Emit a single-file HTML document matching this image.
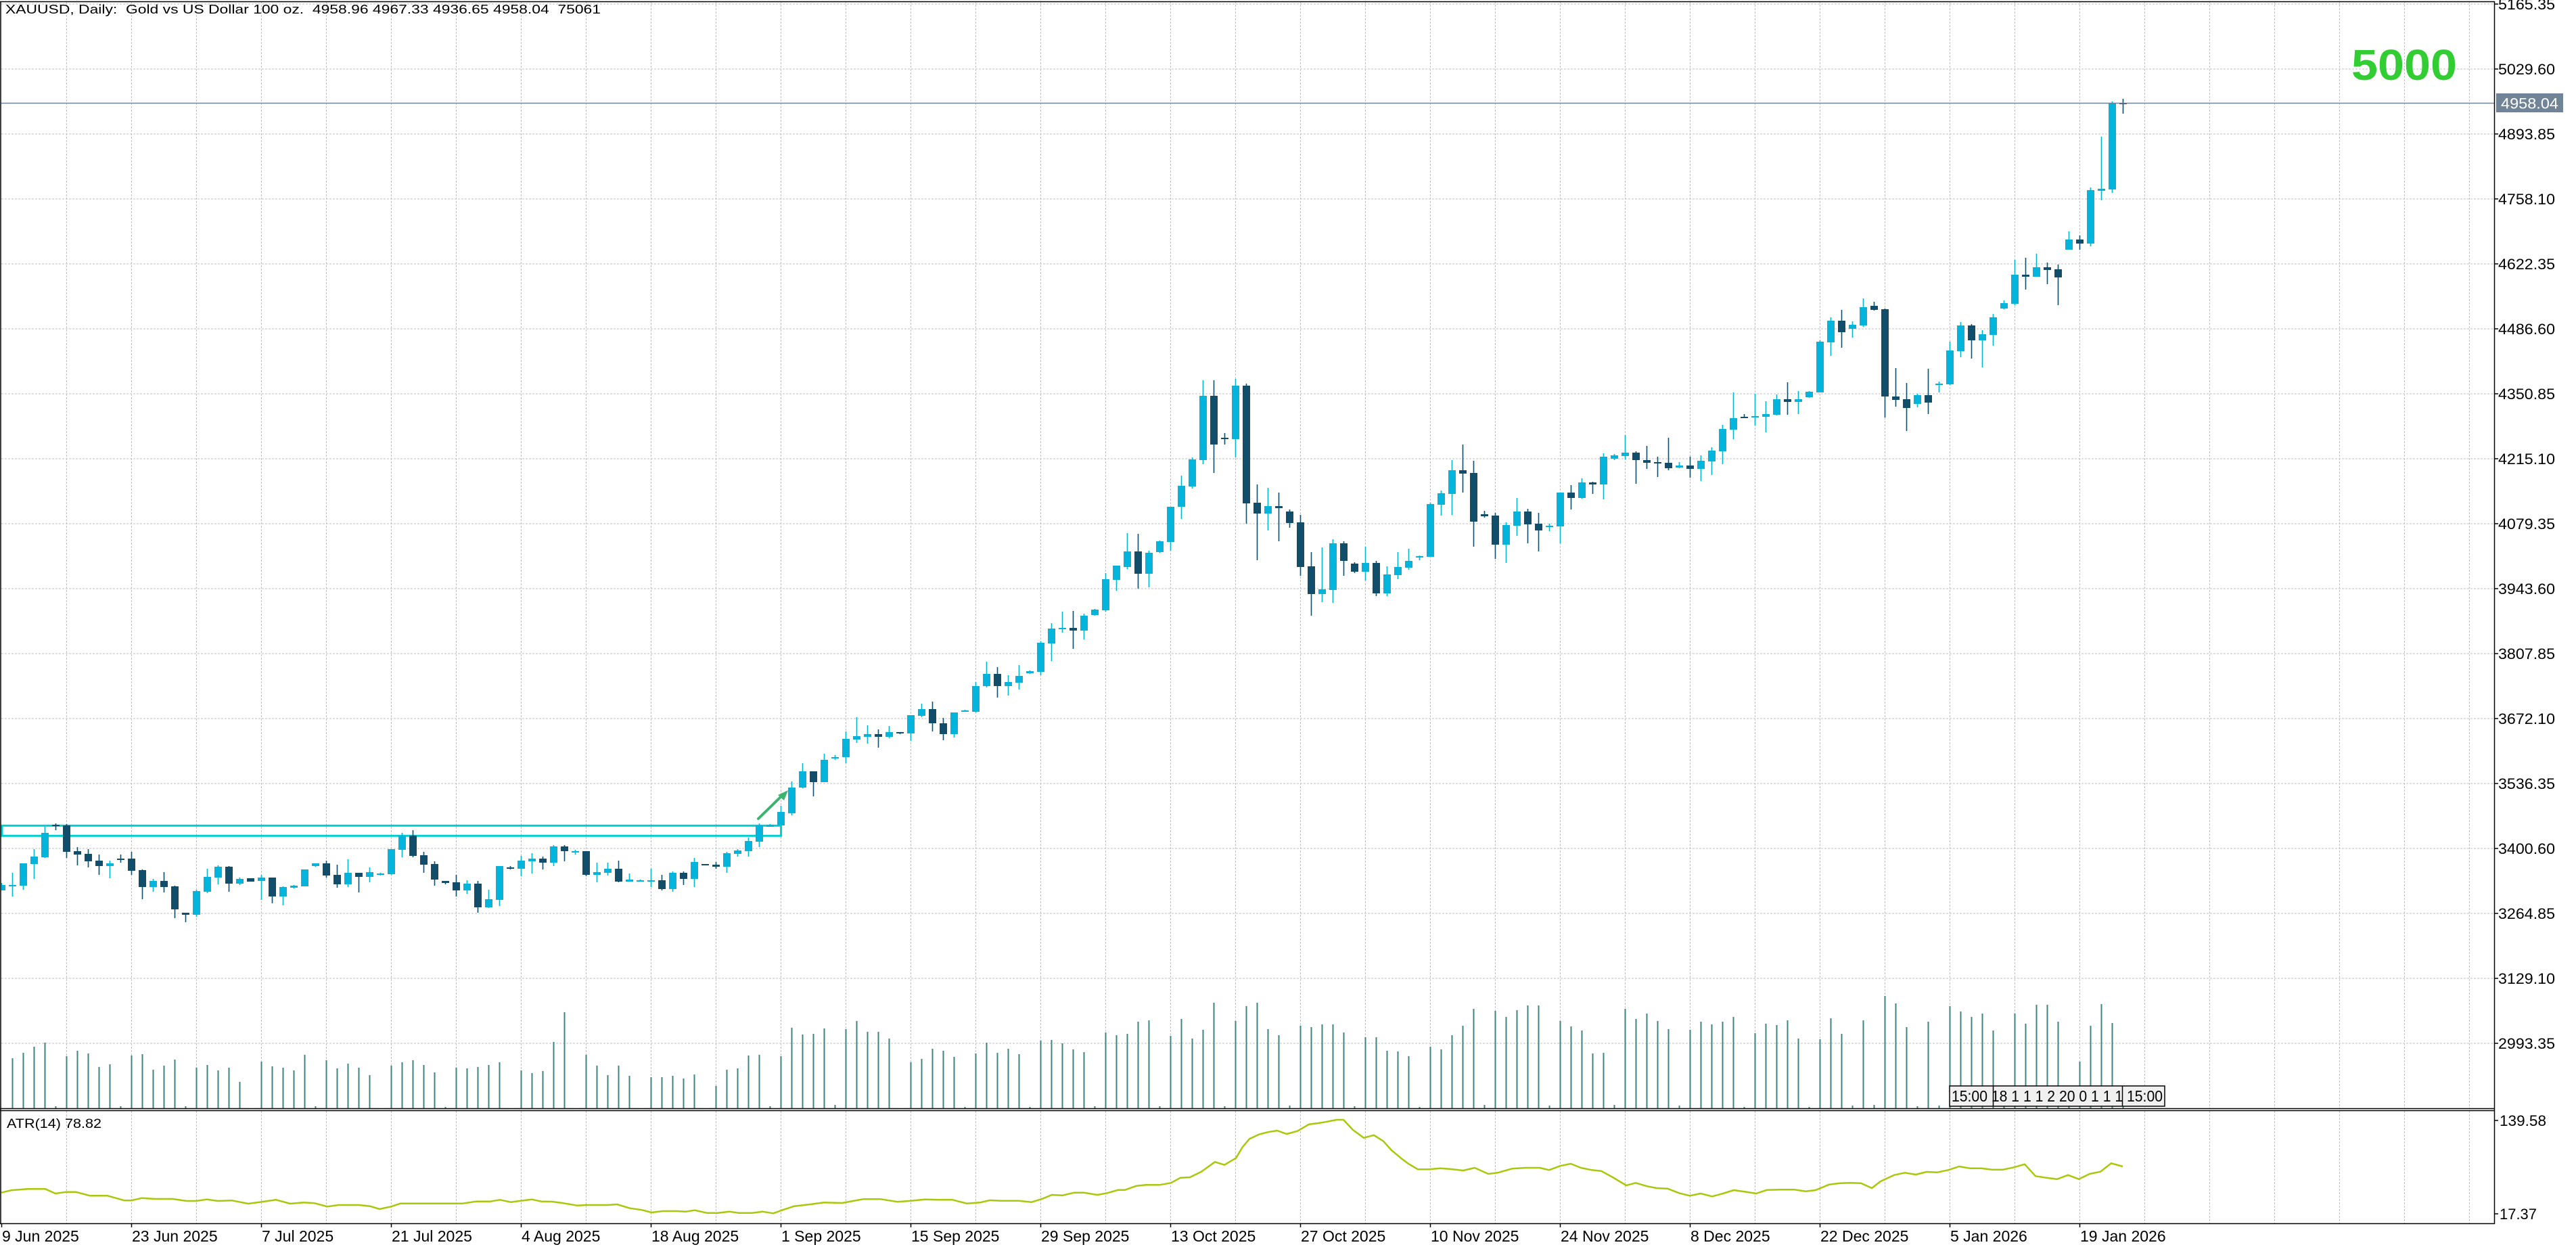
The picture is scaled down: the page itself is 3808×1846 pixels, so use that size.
<!DOCTYPE html>
<html><head><meta charset="utf-8"><style>
html,body{margin:0;padding:0;background:#fff;}
svg{display:block;}
text{font-family:"Liberation Sans",Arial,sans-serif;fill:#000;}
</style></head><body>
<svg width="3808" height="1846" viewBox="0 0 3808 1846" xmlns="http://www.w3.org/2000/svg">
<rect width="3808" height="1846" fill="#fff"/>
<!-- grid -->
<g stroke="#c0c0c0" stroke-width="1" stroke-dasharray="3 2" fill="none">
<path d="M2 6H3687M2 102H3687M2 198H3687M2 294H3687M2 390H3687M2 486H3687M2 582H3687M2 678H3687M2 774H3687M2 870H3687M2 966H3687M2 1062H3687M2 1158H3687M2 1254H3687M2 1350H3687M2 1446H3687M2 1542H3687"/>
<path d="M98.5 2V1638M194.5 2V1638M290.5 2V1638M386.5 2V1638M482.5 2V1638M578.5 2V1638M674.5 2V1638M770.5 2V1638M866.5 2V1638M962.5 2V1638M1058.5 2V1638M1154.5 2V1638M1250.5 2V1638M1346.5 2V1638M1442.5 2V1638M1538.5 2V1638M1634.5 2V1638M1730.5 2V1638M1826.5 2V1638M1922.5 2V1638M2018.5 2V1638M2114.5 2V1638M2210.5 2V1638M2306.5 2V1638M2402.5 2V1638M2498.5 2V1638M2594.5 2V1638M2690.5 2V1638M2786.5 2V1638M2882.5 2V1638M2978.5 2V1638M3074.5 2V1638M3170.5 2V1638M3266.5 2V1638M3362.5 2V1638M3458.5 2V1638M3554.5 2V1638M3650.5 2V1638"/>
<path d="M98.5 1642V1808M194.5 1642V1808M290.5 1642V1808M386.5 1642V1808M482.5 1642V1808M578.5 1642V1808M674.5 1642V1808M770.5 1642V1808M866.5 1642V1808M962.5 1642V1808M1058.5 1642V1808M1154.5 1642V1808M1250.5 1642V1808M1346.5 1642V1808M1442.5 1642V1808M1538.5 1642V1808M1634.5 1642V1808M1730.5 1642V1808M1826.5 1642V1808M1922.5 1642V1808M2018.5 1642V1808M2114.5 1642V1808M2210.5 1642V1808M2306.5 1642V1808M2402.5 1642V1808M2498.5 1642V1808M2594.5 1642V1808M2690.5 1642V1808M2786.5 1642V1808M2882.5 1642V1808M2978.5 1642V1808M3074.5 1642V1808M3170.5 1642V1808M3266.5 1642V1808M3362.5 1642V1808M3458.5 1642V1808M3554.5 1642V1808M3650.5 1642V1808"/>
</g>
<!-- volumes -->
<path stroke="#3e8583" stroke-width="2" fill="none" d="M18.5 1638V1564M34.5 1638V1556M50.5 1638V1547M66.5 1638V1541M82.5 1638V1635M98.5 1638V1561M114.5 1638V1553M130.5 1638V1557M146.5 1638V1577M162.5 1638V1573M178.5 1638V1635M194.5 1638V1560M210.5 1638V1558M226.5 1638V1581M242.5 1638V1575M258.5 1638V1566M274.5 1638V1635M290.5 1638V1578M306.5 1638V1574M322.5 1638V1582M338.5 1638V1578M354.5 1638V1599M386.5 1638V1569M402.5 1638V1576M418.5 1638V1578M434.5 1638V1582M450.5 1638V1559M466.5 1638V1635M482.5 1638V1567M498.5 1638V1579M514.5 1638V1572M530.5 1638V1578M546.5 1638V1589M578.5 1638V1575M594.5 1638V1570M610.5 1638V1567M626.5 1638V1574M642.5 1638V1585M658.5 1638V1636M674.5 1638V1578M690.5 1638V1579M706.5 1638V1577M722.5 1638V1574M738.5 1638V1570M770.5 1638V1582M786.5 1638V1586M802.5 1638V1583M818.5 1638V1540M834.5 1638V1496M866.5 1638V1559M882.5 1638V1575M898.5 1638V1589M914.5 1638V1575M930.5 1638V1590M962.5 1638V1592M978.5 1638V1592M994.5 1638V1590M1010.5 1638V1594M1026.5 1638V1588M1058.5 1638V1605M1074.5 1638V1581M1090.5 1638V1579M1106.5 1638V1560M1122.5 1638V1559M1138.5 1638V1635M1154.5 1638V1561M1170.5 1638V1519M1186.5 1638V1529M1202.5 1638V1528M1218.5 1638V1520M1234.5 1638V1633M1250.5 1638V1521M1266.5 1638V1509M1282.5 1638V1525M1298.5 1638V1525M1314.5 1638V1535M1346.5 1638V1570M1362.5 1638V1565M1378.5 1638V1550M1394.5 1638V1553M1410.5 1638V1562M1426.5 1638V1636M1442.5 1638V1557M1458.5 1638V1541M1474.5 1638V1556M1490.5 1638V1550M1506.5 1638V1558M1522.5 1638V1636M1538.5 1638V1538M1554.5 1638V1537M1570.5 1638V1542M1586.5 1638V1551M1602.5 1638V1555M1618.5 1638V1635M1634.5 1638V1526M1650.5 1638V1530M1666.5 1638V1528M1682.5 1638V1510M1698.5 1638V1508M1714.5 1638V1635M1730.5 1638V1531M1746.5 1638V1506M1762.5 1638V1535M1778.5 1638V1522M1794.5 1638V1482M1810.5 1638V1635M1826.5 1638V1509M1842.5 1638V1487M1858.5 1638V1482M1874.5 1638V1521M1890.5 1638V1530M1906.5 1638V1634M1922.5 1638V1516M1938.5 1638V1518M1954.5 1638V1514M1970.5 1638V1514M1986.5 1638V1526M2002.5 1638V1635M2018.5 1638V1533M2034.5 1638V1533M2050.5 1638V1553M2066.5 1638V1554M2082.5 1638V1561M2098.5 1638V1636M2114.5 1638V1547M2130.5 1638V1551M2146.5 1638V1530M2162.5 1638V1516M2178.5 1638V1491M2194.5 1638V1633M2210.5 1638V1494M2226.5 1638V1503M2242.5 1638V1493M2258.5 1638V1486M2274.5 1638V1486M2290.5 1638V1634M2306.5 1638V1509M2322.5 1638V1517M2338.5 1638V1523M2354.5 1638V1557M2370.5 1638V1556M2386.5 1638V1633M2402.5 1638V1491M2418.5 1638V1506M2434.5 1638V1498M2450.5 1638V1509M2466.5 1638V1521M2482.5 1638V1634M2498.5 1638V1522M2514.5 1638V1510M2530.5 1638V1514M2546.5 1638V1510M2562.5 1638V1503M2578.5 1638V1636M2594.5 1638V1527M2610.5 1638V1513M2626.5 1638V1515M2642.5 1638V1508M2658.5 1638V1535M2674.5 1638V1636M2690.5 1638V1536M2706.5 1638V1505M2722.5 1638V1528M2738.5 1638V1634M2754.5 1638V1508M2770.5 1638V1633M2786.5 1638V1472M2802.5 1638V1483M2818.5 1638V1518M2834.5 1638V1635M2850.5 1638V1510M2866.5 1638V1634M2882.5 1638V1487M2898.5 1638V1495M2914.5 1638V1503M2930.5 1638V1498M2946.5 1638V1523M2962.5 1638V1634M2978.5 1638V1498M2994.5 1638V1513M3010.5 1638V1485M3026.5 1638V1485M3042.5 1638V1510M3058.5 1638V1632M3074.5 1638V1569M3090.5 1638V1516M3106.5 1638V1484M3122.5 1638V1512M3138.5 1638V1605"/>
<!-- time label box -->
<rect x="2882" y="1605" width="318" height="30" fill="#f0f0f0" stroke="#000" stroke-width="1.5"/>
<path d="M2946.5 1605V1635M3137.5 1605V1635" stroke="#000" stroke-width="1.5"/>
<text x="2885" y="1628" font-size="23" textLength="312" lengthAdjust="spacingAndGlyphs">15:00 18 1 1 1 2 20 0 1 1 1 15:00</text>
<!-- cyan rectangle -->
<rect x="3" y="1220.3" width="1151.5" height="15" fill="none" stroke="#00ced1" stroke-width="3"/>
<!-- green arrow -->
<line x1="1121" y1="1210" x2="1158" y2="1174" stroke="#3cb371" stroke-width="4" stroke-linecap="round"/>
<polygon points="1165,1168 1150,1175 1159,1183" fill="#3cb371"/>
<!-- candles bull -->
<g clip-path="url(#cl)">
<clipPath id="cl"><rect x="2" y="2" width="3685" height="1636"/></clipPath>
<path stroke="#00b4dc" stroke-width="1.6" fill="none" d="M2.5 1305V1316M18.5 1290V1325M34.5 1276V1315M50.5 1255V1299M66.5 1222V1268M162.5 1272V1298M226.5 1299V1318M290.5 1315V1355M306.5 1284V1320M322.5 1279V1307M354.5 1297V1308M386.5 1293V1330M418.5 1310V1338M434.5 1308V1313M450.5 1285V1310M466.5 1276V1281M514.5 1270V1311M546.5 1282V1304M562.5 1290V1294M578.5 1255V1293M594.5 1231V1267M690.5 1301V1321M722.5 1315V1342M738.5 1280V1339M770.5 1265V1295M786.5 1261V1291M818.5 1249V1280M850.5 1256V1263M882.5 1275V1304M898.5 1275V1294M930.5 1291V1303M946.5 1300V1303M962.5 1284V1311M994.5 1288V1318M1026.5 1268V1311M1074.5 1259V1290M1090.5 1255V1266M1106.5 1238V1266M1122.5 1217V1252M1138.5 1218V1222M1154.5 1191V1220M1170.5 1155V1205M1186.5 1128V1165M1218.5 1114V1156M1234.5 1116V1123M1250.5 1081V1128M1266.5 1060V1098M1282.5 1072V1099M1314.5 1073V1091M1346.5 1057V1095M1362.5 1040V1060M1410.5 1053V1090M1426.5 1049V1052M1442.5 1008V1053M1458.5 978V1016M1490.5 998V1028M1506.5 983V1019M1522.5 991V996M1538.5 948V998M1554.5 921V977M1570.5 904V935M1602.5 907V945M1618.5 900V910M1634.5 847V904M1650.5 836V873M1666.5 788V841M1698.5 814V868M1714.5 799V817M1730.5 749V814M1746.5 703V767M1762.5 676V722M1778.5 562V686M1826.5 560V676M1874.5 721V784M1954.5 809V890M1970.5 797V891M2018.5 808V858M2050.5 837V881M2066.5 816V856M2082.5 811V842M2098.5 821V828M2114.5 743V823M2130.5 725V762M2146.5 680V761M2226.5 772V832M2242.5 736V792M2290.5 774V785M2306.5 728V803M2338.5 707V737M2370.5 670V738M2386.5 671V680M2402.5 643V679M2482.5 683V692M2514.5 673V711M2530.5 661V702M2546.5 628V686M2562.5 580V649M2594.5 582V629M2610.5 593V639M2626.5 583V614M2658.5 578V612M2674.5 578V588M2690.5 503V580M2706.5 469V526M2738.5 475V499M2754.5 441V483M2834.5 582V602M2866.5 564V580M2882.5 505V569M2898.5 476V528M2930.5 488V543M2946.5 464V511M2962.5 444V457M2978.5 384V451M3010.5 375V409M3058.5 342V369M3090.5 277V364M3106.5 202V296M3122.5 150V285"/>
<path fill="#00b4dc" d="M-3 1308h11v8h-11zM13 1308h11v2h-11zM29 1276h11v33h-11zM45 1266h11v11h-11zM61 1231h11v36h-11zM157 1276h11v4h-11zM221 1302h11v9h-11zM285 1317h11v35h-11zM301 1296h11v22h-11zM317 1281h11v16h-11zM349 1299h11v7h-11zM381 1297h11v5h-11zM413 1311h11v14h-11zM429 1309h11v3h-11zM445 1285h11v25h-11zM461 1276h11v4h-11zM509 1290h11v17h-11zM541 1289h11v7h-11zM557 1291h11v2h-11zM573 1255h11v37h-11zM589 1235h11v21h-11zM685 1306h11v10h-11zM717 1329h11v12h-11zM733 1280h11v50h-11zM765 1272h11v12h-11zM781 1269h11v4h-11zM813 1251h11v24h-11zM845 1258h11v2h-11zM877 1289h11v4h-11zM893 1284h11v6h-11zM925 1300h11v3h-11zM941 1301h11v2h-11zM957 1301h11v2h-11zM989 1290h11v24h-11zM1021 1274h11v25h-11zM1069 1261h11v20h-11zM1085 1257h11v5h-11zM1101 1243h11v15h-11zM1117 1220h11v24h-11zM1133 1219h11v3h-11zM1149 1200h11v20h-11zM1165 1164h11v38h-11zM1181 1140h11v24h-11zM1213 1123h11v33h-11zM1229 1119h11v2h-11zM1245 1092h11v27h-11zM1261 1088h11v5h-11zM1277 1085h11v4h-11zM1309 1082h11v7h-11zM1341 1057h11v27h-11zM1357 1048h11v10h-11zM1405 1053h11v32h-11zM1421 1050h11v2h-11zM1437 1014h11v38h-11zM1453 996h11v18h-11zM1485 1008h11v6h-11zM1501 999h11v10h-11zM1517 992h11v3h-11zM1533 950h11v43h-11zM1549 929h11v22h-11zM1565 928h11v2h-11zM1597 910h11v22h-11zM1613 901h11v8h-11zM1629 856h11v46h-11zM1645 836h11v21h-11zM1661 815h11v23h-11zM1693 817h11v31h-11zM1709 800h11v16h-11zM1725 749h11v52h-11zM1741 718h11v31h-11zM1757 679h11v40h-11zM1773 585h11v95h-11zM1821 570h11v79h-11zM1869 748h11v11h-11zM1949 871h11v7h-11zM1965 803h11v69h-11zM2013 832h11v13h-11zM2045 849h11v28h-11zM2061 838h11v12h-11zM2077 829h11v10h-11zM2093 822h11v2h-11zM2109 745h11v78h-11zM2125 729h11v17h-11zM2141 695h11v35h-11zM2221 776h11v29h-11zM2237 756h11v21h-11zM2285 777h11v2h-11zM2301 728h11v50h-11zM2333 713h11v23h-11zM2365 675h11v41h-11zM2381 673h11v5h-11zM2397 669h11v5h-11zM2477 688h11v3h-11zM2509 681h11v12h-11zM2525 666h11v16h-11zM2541 634h11v33h-11zM2557 618h11v17h-11zM2589 615h11v2h-11zM2605 612h11v4h-11zM2621 590h11v23h-11zM2653 590h11v4h-11zM2669 579h11v8h-11zM2685 505h11v75h-11zM2701 474h11v32h-11zM2733 480h11v6h-11zM2749 454h11v27h-11zM2829 584h11v13h-11zM2861 567h11v2h-11zM2877 518h11v50h-11zM2893 481h11v38h-11zM2925 494h11v9h-11zM2941 469h11v26h-11zM2957 448h11v8h-11zM2973 406h11v43h-11zM3005 395h11v14h-11zM3053 354h11v15h-11zM3085 281h11v79h-11zM3101 279h11v3h-11zM3117 152h11v128h-11z"/>
<!-- candles bear -->
<path stroke="#114e6c" stroke-width="1.6" fill="none" d="M82.5 1217V1227M98.5 1218V1268M114.5 1252V1279M130.5 1255V1282M146.5 1263V1293M178.5 1263V1275M194.5 1259V1293M210.5 1285V1329M242.5 1289V1319M258.5 1309V1357M274.5 1349V1363M338.5 1280V1318M370.5 1298V1303M402.5 1297V1335M482.5 1272V1297M498.5 1278V1312M530.5 1290V1319M610.5 1227V1267M626.5 1259V1290M642.5 1273V1309M658.5 1302V1307M674.5 1293V1325M706.5 1302V1349M754.5 1280V1285M802.5 1266V1285M834.5 1249V1273M866.5 1258V1295M914.5 1272V1304M978.5 1293V1316M1010.5 1288V1308M1042.5 1277V1279M1058.5 1274V1284M1202.5 1140V1177M1298.5 1078V1105M1330.5 1082V1085M1378.5 1037V1081M1394.5 1061V1094M1474.5 986V1031M1586.5 903V959M1682.5 789V870M1794.5 562V699M1810.5 640V657M1842.5 567V774M1858.5 716V828M1890.5 728V800M1906.5 753V780M1922.5 761V851M1938.5 816V910M1986.5 800V851M2002.5 831V847M2034.5 829V881M2162.5 657V728M2178.5 681V808M2194.5 755V765M2210.5 758V826M2258.5 752V803M2274.5 758V815M2322.5 717V753M2354.5 712V730M2418.5 667V715M2434.5 659V693M2450.5 675V705M2466.5 647V695M2498.5 675V706M2578.5 612V618M2642.5 565V613M2722.5 458V514M2770.5 446V459M2786.5 456V617M2802.5 544V601M2818.5 566V637M2850.5 545V612M2914.5 479V530M2994.5 381V428M3026.5 388V420M3042.5 391V451M3074.5 348V369M3138.5 146V168"/>
<path fill="#114e6c" d="M77 1219h11v2h-11zM93 1220h11v39h-11zM109 1258h11v5h-11zM125 1262h11v11h-11zM141 1272h11v8h-11zM173 1269h11v2h-11zM189 1269h11v18h-11zM205 1286h11v25h-11zM237 1302h11v9h-11zM253 1310h11v34h-11zM269 1349h11v3h-11zM333 1281h11v25h-11zM365 1298h11v5h-11zM397 1297h11v28h-11zM477 1276h11v18h-11zM493 1293h11v14h-11zM525 1290h11v6h-11zM605 1235h11v30h-11zM621 1264h11v14h-11zM637 1277h11v23h-11zM653 1302h11v3h-11zM669 1304h11v12h-11zM701 1306h11v35h-11zM749 1282h11v2h-11zM797 1269h11v6h-11zM829 1251h11v7h-11zM861 1258h11v35h-11zM909 1284h11v19h-11zM973 1301h11v13h-11zM1005 1290h11v9h-11zM1037 1277h11v2h-11zM1053 1278h11v3h-11zM1197 1140h11v16h-11zM1293 1085h11v4h-11zM1325 1082h11v2h-11zM1373 1048h11v21h-11zM1389 1069h11v16h-11zM1469 996h11v18h-11zM1581 928h11v4h-11zM1677 815h11v33h-11zM1789 585h11v72h-11zM1805 647h11v2h-11zM1837 570h11v174h-11zM1853 743h11v16h-11zM1885 748h11v3h-11zM1901 756h11v17h-11zM1917 772h11v66h-11zM1933 837h11v41h-11zM1981 803h11v26h-11zM1997 833h11v12h-11zM2029 832h11v45h-11zM2157 695h11v5h-11zM2173 699h11v72h-11zM2189 760h11v3h-11zM2205 762h11v43h-11zM2253 756h11v19h-11zM2269 774h11v10h-11zM2317 728h11v8h-11zM2349 713h11v3h-11zM2413 669h11v11h-11zM2429 680h11v4h-11zM2445 683h11v2h-11zM2461 684h11v8h-11zM2493 688h11v5h-11zM2573 616h11v2h-11zM2637 590h11v4h-11zM2717 474h11v17h-11zM2765 452h11v6h-11zM2781 457h11v129h-11zM2797 586h11v5h-11zM2813 590h11v13h-11zM2845 584h11v11h-11zM2909 481h11v22h-11zM2989 406h11v3h-11zM3021 395h11v4h-11zM3037 398h11v12h-11zM3069 354h11v6h-11zM3133 152h11v2h-11z"/>
</g>
<!-- bid line -->
<line x1="2" y1="152.5" x2="3687" y2="152.5" stroke="#6f8399" stroke-width="1.5"/>
<!-- ATR line -->
<polyline fill="none" stroke="#a8c80a" stroke-width="2.5" stroke-linejoin="round" points="2,1762.7 16,1759.3 41,1757.3 67,1757.3 82,1764 98,1761.7 112,1761.7 133,1767.3 159,1767.3 184,1774.3 194,1774.3 210,1770.7 229,1772 255,1772 276,1775 290,1775 306,1772.7 322,1775 343,1774.3 367,1779 384,1776.7 408,1773.3 429,1779 449,1777.3 465,1778.3 484,1783.3 500,1781 531,1781 547,1782.7 561,1787 578,1783.3 592,1778.7 612,1778.7 684,1778.7 704,1775.7 725,1775.7 739,1773.3 755,1776.7 786,1772.7 800,1775.7 816,1776 833,1778.3 853,1781.7 867,1781 898,1781 912,1780 931,1785.7 949,1788.3 963,1792 980,1790 1000,1790 1014,1790.7 1027,1788.7 1045,1792.7 1061,1792.7 1078,1790.7 1092,1792.7 1112,1792.7 1127,1790.7 1143,1793.3 1157,1788.3 1174,1782.7 1198,1780 1218,1777.3 1245,1778 1261,1775 1276,1772.3 1302,1772.3 1327,1776.3 1347,1774.7 1367,1772.7 1388,1773.3 1408,1773.3 1429,1778.7 1449,1777.3 1463,1774 1480,1774.7 1506,1774.7 1525,1776.7 1541,1771.7 1555,1766 1571,1766.7 1588,1762.7 1602,1762.7 1622,1766 1637,1763.3 1653,1758.7 1663,1758.7 1680,1752.7 1694,1751.3 1714,1751.3 1731,1748.3 1745,1740.7 1759,1740 1776,1731.7 1796,1717.3 1810,1721.7 1827,1711.7 1837,1695 1847,1683.3 1861,1676.7 1874,1673.3 1888,1671 1902,1676 1918,1671.7 1935,1661.7 1949,1660 1959,1658.3 1976,1655 1986,1655 2000,1670 2016,1681.7 2031,1677.7 2045,1686.7 2057,1700 2071,1711.7 2082,1720 2096,1728.3 2112,1728.3 2129,1726.7 2143,1727.7 2163,1730 2180,1726 2200,1735 2214,1733.3 2235,1727.3 2255,1726 2276,1726 2290,1729.3 2306,1723.3 2322,1720 2337,1726 2353,1729.3 2367,1730.7 2384,1740 2404,1752 2418,1748.3 2435,1753.3 2449,1756 2465,1756.7 2482,1763.3 2498,1767.3 2514,1764 2531,1768.3 2547,1764 2563,1759 2582,1761.7 2596,1764 2612,1758.7 2633,1758.3 2653,1758.3 2669,1760.7 2684,1759 2704,1750.7 2720,1748.7 2735,1748.3 2751,1748.7 2767,1756 2780,1746 2800,1736.7 2816,1733.3 2832,1736 2848,1732 2864,1732.7 2880,1729.3 2896,1724 2912,1726.7 2929,1726.7 2945,1728.7 2961,1728.7 2977,1725.3 2993,1720.7 3009,1738.3 3025,1740.7 3041,1742.7 3057,1736.7 3073,1742.7 3089,1735 3105,1731.7 3121,1719.3 3138,1724"/>
<!-- frames -->
<g stroke="#000" stroke-width="1.5" fill="none">
<path d="M0 2.5H3688M1 2V1809M3687.5 2V1809M0 1638.5H3688M0 1641.5H3688M0 1808.5H3688"/>
<path d="M3687 6H3693M3687 102H3693M3687 198H3693M3687 294H3693M3687 390H3693M3687 486H3693M3687 582H3693M3687 678H3693M3687 774H3693M3687 870H3693M3687 966H3693M3687 1062H3693M3687 1158H3693M3687 1254H3693M3687 1350H3693M3687 1446H3693M3687 1542H3693M3687 1656H3693M3687 1794H3693"/>
<path d="M2.5 1808V1814M194.5 1808V1814M386.5 1808V1814M578.5 1808V1814M770.5 1808V1814M962.5 1808V1814M1154.5 1808V1814M1346.5 1808V1814M1538.5 1808V1814M1730.5 1808V1814M1922.5 1808V1814M2114.5 1808V1814M2306.5 1808V1814M2498.5 1808V1814M2690.5 1808V1814M2882.5 1808V1814M3074.5 1808V1814"/>
</g>
<!-- header -->
<text x="8" y="20" font-size="18" textLength="880" lengthAdjust="spacingAndGlyphs" style="white-space:pre" xml:space="preserve">XAUUSD, Daily:  Gold vs US Dollar 100 oz.  4958.96 4967.33 4936.65 4958.04  75061</text>
<!-- 5000 -->
<text x="3476" y="118" font-size="64" font-weight="bold" textLength="156" lengthAdjust="spacingAndGlyphs" style="fill:#32cd32">5000</text>
<!-- price labels -->
<g font-size="22.5">
<text x="3693" y="14" textLength="84" lengthAdjust="spacingAndGlyphs">5165.35</text>
<text x="3693" y="110" textLength="84" lengthAdjust="spacingAndGlyphs">5029.60</text>
<text x="3693" y="206" textLength="84" lengthAdjust="spacingAndGlyphs">4893.85</text>
<text x="3693" y="302" textLength="84" lengthAdjust="spacingAndGlyphs">4758.10</text>
<text x="3693" y="398" textLength="84" lengthAdjust="spacingAndGlyphs">4622.35</text>
<text x="3693" y="494" textLength="84" lengthAdjust="spacingAndGlyphs">4486.60</text>
<text x="3693" y="590" textLength="84" lengthAdjust="spacingAndGlyphs">4350.85</text>
<text x="3693" y="686" textLength="84" lengthAdjust="spacingAndGlyphs">4215.10</text>
<text x="3693" y="782" textLength="84" lengthAdjust="spacingAndGlyphs">4079.35</text>
<text x="3693" y="878" textLength="84" lengthAdjust="spacingAndGlyphs">3943.60</text>
<text x="3693" y="974" textLength="84" lengthAdjust="spacingAndGlyphs">3807.85</text>
<text x="3693" y="1070" textLength="84" lengthAdjust="spacingAndGlyphs">3672.10</text>
<text x="3693" y="1166" textLength="84" lengthAdjust="spacingAndGlyphs">3536.35</text>
<text x="3693" y="1262" textLength="84" lengthAdjust="spacingAndGlyphs">3400.60</text>
<text x="3693" y="1358" textLength="84" lengthAdjust="spacingAndGlyphs">3264.85</text>
<text x="3693" y="1454" textLength="84" lengthAdjust="spacingAndGlyphs">3129.10</text>
<text x="3693" y="1550" textLength="84" lengthAdjust="spacingAndGlyphs">2993.35</text>
<text x="3695" y="1664" textLength="69" lengthAdjust="spacingAndGlyphs">139.58</text>
<text x="3695" y="1802" textLength="55" lengthAdjust="spacingAndGlyphs">17.37</text>
</g>
<!-- bid label -->
<rect x="3690" y="138" width="99" height="28" fill="#718497"/>
<text x="3697" y="160.5" font-size="22.5" textLength="85" lengthAdjust="spacingAndGlyphs" style="fill:#fff">4958.04</text>
<!-- ATR label -->
<text x="10" y="1667" font-size="19.5" textLength="140" lengthAdjust="spacingAndGlyphs">ATR(14) 78.82</text>
<!-- date labels -->
<g font-size="23">
<text x="3" y="1835">9 Jun 2025</text>
<text x="195" y="1835">23 Jun 2025</text>
<text x="387" y="1835">7 Jul 2025</text>
<text x="579" y="1835">21 Jul 2025</text>
<text x="771" y="1835">4 Aug 2025</text>
<text x="963" y="1835">18 Aug 2025</text>
<text x="1155" y="1835">1 Sep 2025</text>
<text x="1347" y="1835">15 Sep 2025</text>
<text x="1539" y="1835">29 Sep 2025</text>
<text x="1731" y="1835">13 Oct 2025</text>
<text x="1923" y="1835">27 Oct 2025</text>
<text x="2115" y="1835">10 Nov 2025</text>
<text x="2307" y="1835">24 Nov 2025</text>
<text x="2499" y="1835">8 Dec 2025</text>
<text x="2691" y="1835">22 Dec 2025</text>
<text x="2883" y="1835">5 Jan 2026</text>
<text x="3075" y="1835">19 Jan 2026</text>
</g>
</svg>
</body></html>
